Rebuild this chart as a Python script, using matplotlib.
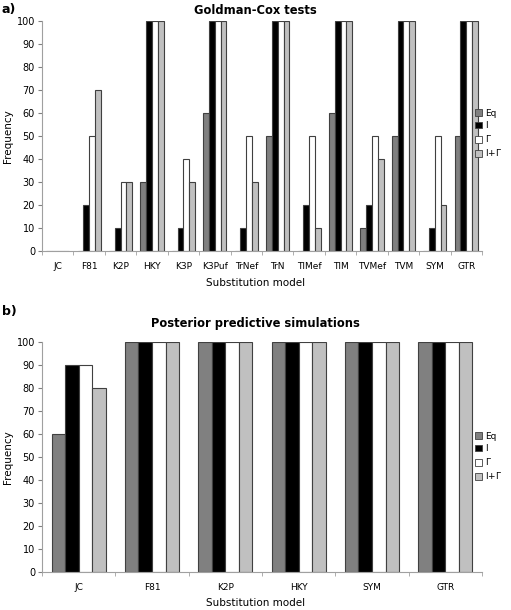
import numpy as np
import matplotlib
matplotlib.use("Agg")
import matplotlib.pyplot as plt
from matplotlib.patches import Patch

# panel a: Goldman-Cox tests
models_a = ["JC", "F81", "K2P", "HKY", "K3P", "K3Puf", "TrNef", "TrN",
            "TIMef", "TIM", "TVMef", "TVM", "SYM", "GTR"]
eq_a = [0, 0, 0, 30, 0, 60, 0, 50, 0, 60, 10, 50, 0, 50]
i_a = [0, 20, 10, 100, 10, 100, 10, 100, 20, 100, 20, 100, 10, 100]
g_a = [0, 50, 30, 100, 40, 100, 50, 100, 50, 100, 50, 100, 50, 100]
ig_a = [0, 70, 30, 100, 30, 100, 30, 100, 10, 100, 40, 100, 20, 100]

# panel b: posterior predictive simulations
models_b = ["JC", "F81", "K2P", "HKY", "SYM", "GTR"]
eq_b = [60, 100, 100, 100, 100, 100]
i_b = [90, 100, 100, 100, 100, 100]
g_b = [90, 100, 100, 100, 100, 100]
ig_b = [80, 100, 100, 100, 100, 100]

series_names = ["Eq", "I", r"$\mathit{\Gamma}$", r"I+$\mathit{\Gamma}$"]
colors = ["#808080", "#000000", "#ffffff", "#c0c0c0"]
edge = "#404040"

plt.rcParams["font.family"] = "DejaVu Sans"
plt.rcParams["mathtext.fontset"] = "dejavusans"

fig = plt.figure(figsize=(5.11, 6.10), dpi=100)
W, H = 511, 610


def panel(rect, models, series, title, letter, letter_y, title_y, xlabel_y, leg_y):
    ax = fig.add_axes(rect)
    n = len(models)
    x = np.arange(n)
    bw = 0.185
    for k, vals in enumerate(series):
        ax.bar(x + (k - 1.5) * bw, vals, width=bw, color=colors[k],
               edgecolor=edge, linewidth=0.8, label=series_names[k])
    ax.set_xlim(-0.5, n - 0.5)
    ax.set_ylim(0, 100)
    ax.set_yticks(range(0, 101, 10))
    ax.set_xticks(x)
    ax.set_xticklabels(models)
    ax.set_xticks(np.arange(n + 1) - 0.5, minor=True)
    ax.tick_params(axis="x", which="major", length=0, labelsize=6.5, pad=8)
    ax.tick_params(axis="x", which="minor", length=3, color="#a0a0a0")
    ax.tick_params(axis="y", length=3, color="#808080", labelsize=7, pad=2)
    for s in ["top", "right"]:
        ax.spines[s].set_visible(False)
    for s in ["left", "bottom"]:
        ax.spines[s].set_color("#a0a0a0")
        ax.spines[s].set_linewidth(0.8)
    ax.set_ylabel("Frequency", fontsize=7.5, labelpad=3)
    fig.text(0.5, 1 - title_y / H, title, ha="center", va="center",
             fontsize=8.3, fontweight="bold")
    fig.text(2 / W, 1 - letter_y / H, letter, ha="left", va="center",
             fontsize=9, fontweight="bold")
    fig.text(0.5, 1 - xlabel_y / H, "Substitution model", ha="center",
             va="center", fontsize=7.5)
    handles = [Patch(facecolor=colors[k], edgecolor=edge, linewidth=0.6,
                     label=series_names[k]) for k in range(4)]
    fig.legend(handles=handles, loc="upper left",
               bbox_to_anchor=(475 / W, 1 - leg_y / H), frameon=False,
               fontsize=6.5, handlelength=0.8, handleheight=0.8,
               handletextpad=0.3, labelspacing=0.35, borderaxespad=0,
               borderpad=0)
    return ax


panel([42 / W, 1 - 251 / H, 440 / W, 230 / H], models_a,
      [eq_a, i_a, g_a, ig_a], "Goldman-Cox tests", "a)", 9, 10, 283, 109)
panel([42 / W, 1 - 572 / H, 440 / W, 230 / H], models_b,
      [eq_b, i_b, g_b, ig_b], "Posterior predictive simulations", "b)", 312, 323, 603, 432)

fig.savefig("out.png", dpi=100)
